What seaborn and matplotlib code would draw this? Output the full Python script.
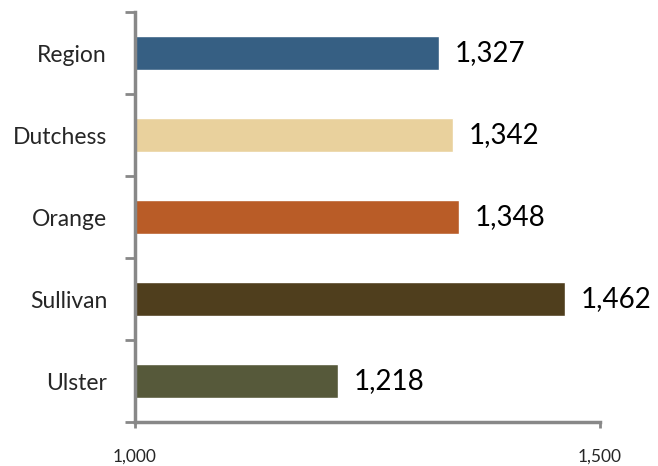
import pandas as pd
import seaborn as sns
import matplotlib.pyplot as plt
import numpy as np

# Data
counties = ['Region', 'Dutchess', 'Orange', 'Sullivan', 'Ulster']
values = [1327, 1342, 1348, 1462, 1218]
colors = ['#365F83', '#E9D19D', '#B95C27', '#4F3E1D', '#56593A']

df = pd.DataFrame({'county': counties, 'value': values})

sns.set_style('white')
plt.rcParams['font.family'] = ['Lato', 'DejaVu Sans']

fig = plt.figure(figsize=(6.58, 4.66), dpi=100)
ax = fig.add_axes([0.205, 0.094, 0.707, 0.88])

sns.barplot(data=df, y='county', x='value', hue='county', palette=colors,
            order=counties, width=0.41, saturation=1, legend=False, ax=ax)

ax.set_xlim(1000, 1500)
ax.set_ylim(4.5, -0.5)
ax.set_xticks([1000, 1500])
ax.set_xticklabels(['1,000', '1,500'], fontsize=12.5)
ax.set_xlabel('')
ax.set_ylabel('')
ax.tick_params(axis='y', which='major', left=True, length=0, labelsize=16.5, pad=20)
ax.set_yticks(np.arange(-0.5, 5, 1), minor=True)
ax.tick_params(axis='y', which='minor', left=True, length=7, width=2,
               color='#888888', direction='out')
ax.tick_params(axis='x', bottom=True, length=4, width=2, color='#888888',
               direction='out', pad=15)

for s in ['top', 'right']:
    ax.spines[s].set_visible(False)
for s in ['left', 'bottom']:
    ax.spines[s].set_color('#888888')
    ax.spines[s].set_linewidth(2.5)

# Value labels
for i, v in enumerate(values):
    ax.text(v + 17, i, f'{v:,}', va='center', ha='left', fontsize=20, color='black')

fig.savefig('out.png', dpi=100)
